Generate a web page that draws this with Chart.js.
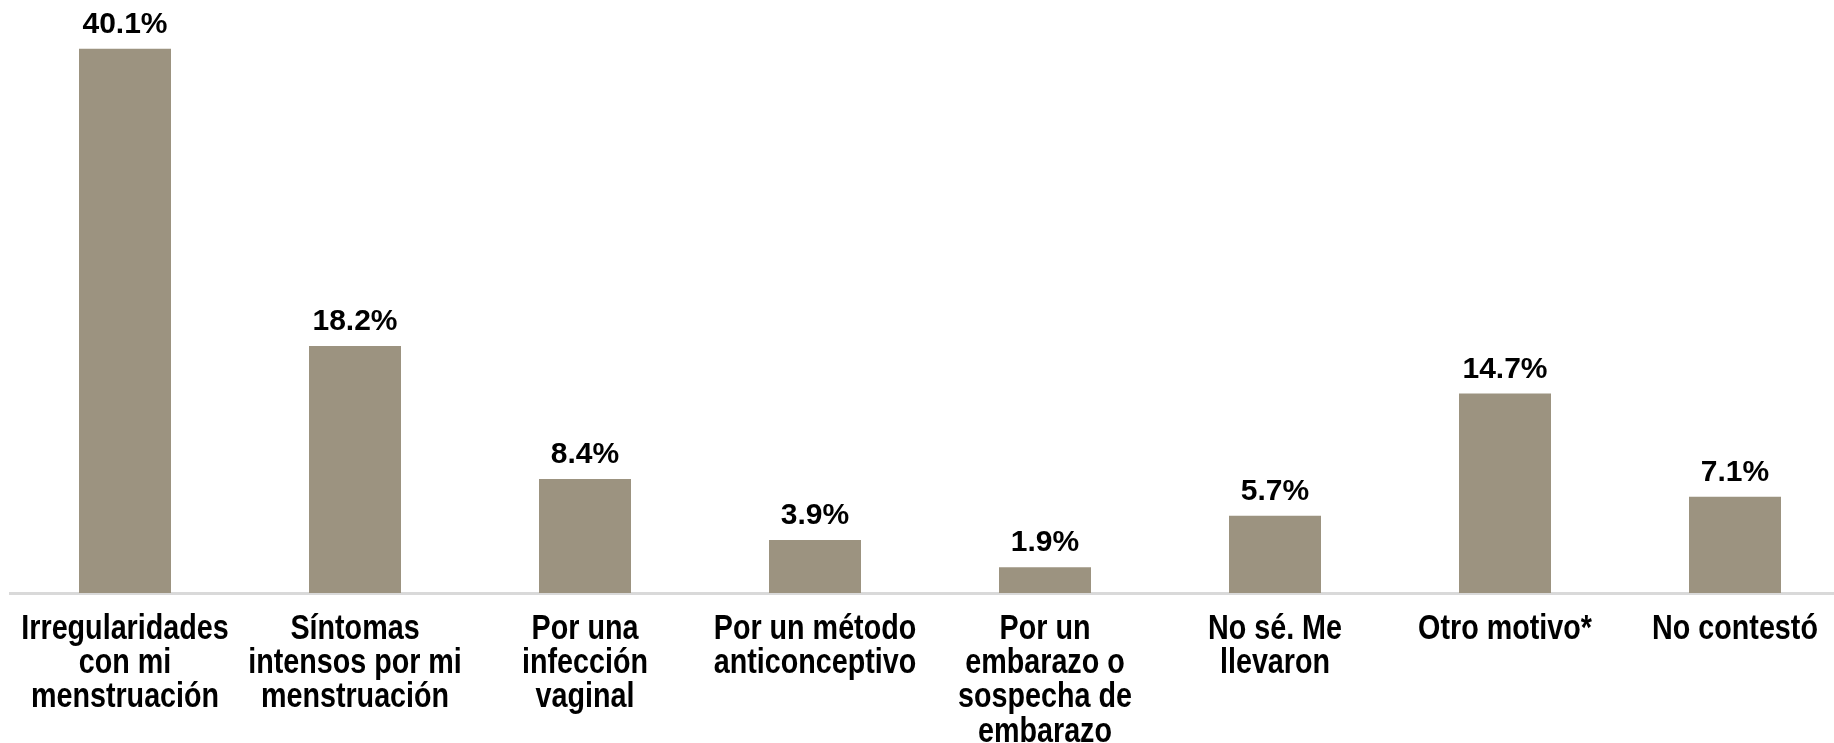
<!DOCTYPE html>
<html>
<head>
<meta charset="utf-8">
<script src="https://cdn.jsdelivr.net/npm/chart.js@4.4.1/dist/chart.umd.min.js"></script>
<style>
  html, body { margin: 0; padding: 0; background: #fff; overflow: hidden; }
  #wrap { width: 1850px; height: 743px; position: relative; }
</style>
</head>
<body>
<div id="wrap"><canvas id="chart"></canvas></div>
<script>
// categories (one array per label, split into lines as in the picture)
const categories = [
  ['Irregularidades', 'con mi', 'menstruación'],
  ['Síntomas', 'intensos por mi', 'menstruación'],
  ['Por una', 'infección', 'vaginal'],
  ['Por un método', 'anticonceptivo'],
  ['Por un', 'embarazo o', 'sospecha de', 'embarazo'],
  ['No sé. Me', 'llevaron'],
  ['Otro motivo*'],
  ['No contestó']
];
const values = [40.1, 18.2, 8.4, 3.9, 1.9, 5.7, 14.7, 7.1];

const barColor = '#9c9380';

// value labels above bars
const valueLabels = {
  id: 'valueLabels',
  afterDatasetsDraw(chart){
    const ctx = chart.ctx;
    const meta = chart.getDatasetMeta(0);
    ctx.save();
    ctx.fillStyle = '#000';
    ctx.font = 'bold 30px "Liberation Sans", Arial, sans-serif';
    ctx.textAlign = 'center';
    ctx.textBaseline = 'alphabetic';
    meta.data.forEach((bar, i) => {
      ctx.fillText(values[i].toFixed(1) + '%', bar.x, bar.y - 16);
    });
    ctx.restore();
  }
};

// category labels, drawn a bit condensed like the original
const catLabels = {
  id: 'catLabels',
  afterDraw(chart){
    const ctx = chart.ctx;
    const xs = chart.scales.x;
    ctx.save();
    ctx.fillStyle = '#000';
    ctx.font = 'bold 35px "Liberation Sans", Arial, sans-serif';
    ctx.textAlign = 'center';
    ctx.textBaseline = 'middle';
    categories.forEach((lines, i) => {
      const x = xs.getPixelForTick(i);
      lines.forEach((line, j) => {
        ctx.save();
        ctx.translate(x, xs.top + 36 + j * 34.4);
        ctx.scale(0.82, 1);
        ctx.fillText(line, 0, 0);
        ctx.restore();
      });
    });
    ctx.restore();
  }
};

new Chart(document.getElementById('chart'), {
  type: 'bar',
  data: {
    labels: categories,
    datasets: [{
      data: values,
      backgroundColor: barColor,
      borderWidth: 0,
      barPercentage: 0.4,
      categoryPercentage: 1
    }]
  },
  options: {
    responsive: true,
    maintainAspectRatio: false,
    animation: false,
    layout: { padding: { left: 10, right: 0, top: 0, bottom: 0 } },
    plugins: { legend: { display: false }, tooltip: { enabled: false } },
    scales: {
      x: {
        grid: { display: false, drawTicks: false },
        border: { display: true, color: '#d9d9d9', width: 3 },
        ticks: { display: false },
        afterFit(scale){ scale.height = 150; }
      },
      y: {
        display: false,
        min: 0,
        max: 43.7
      }
    }
  },
  plugins: [valueLabels, catLabels]
});
</script>
</body>
</html>
